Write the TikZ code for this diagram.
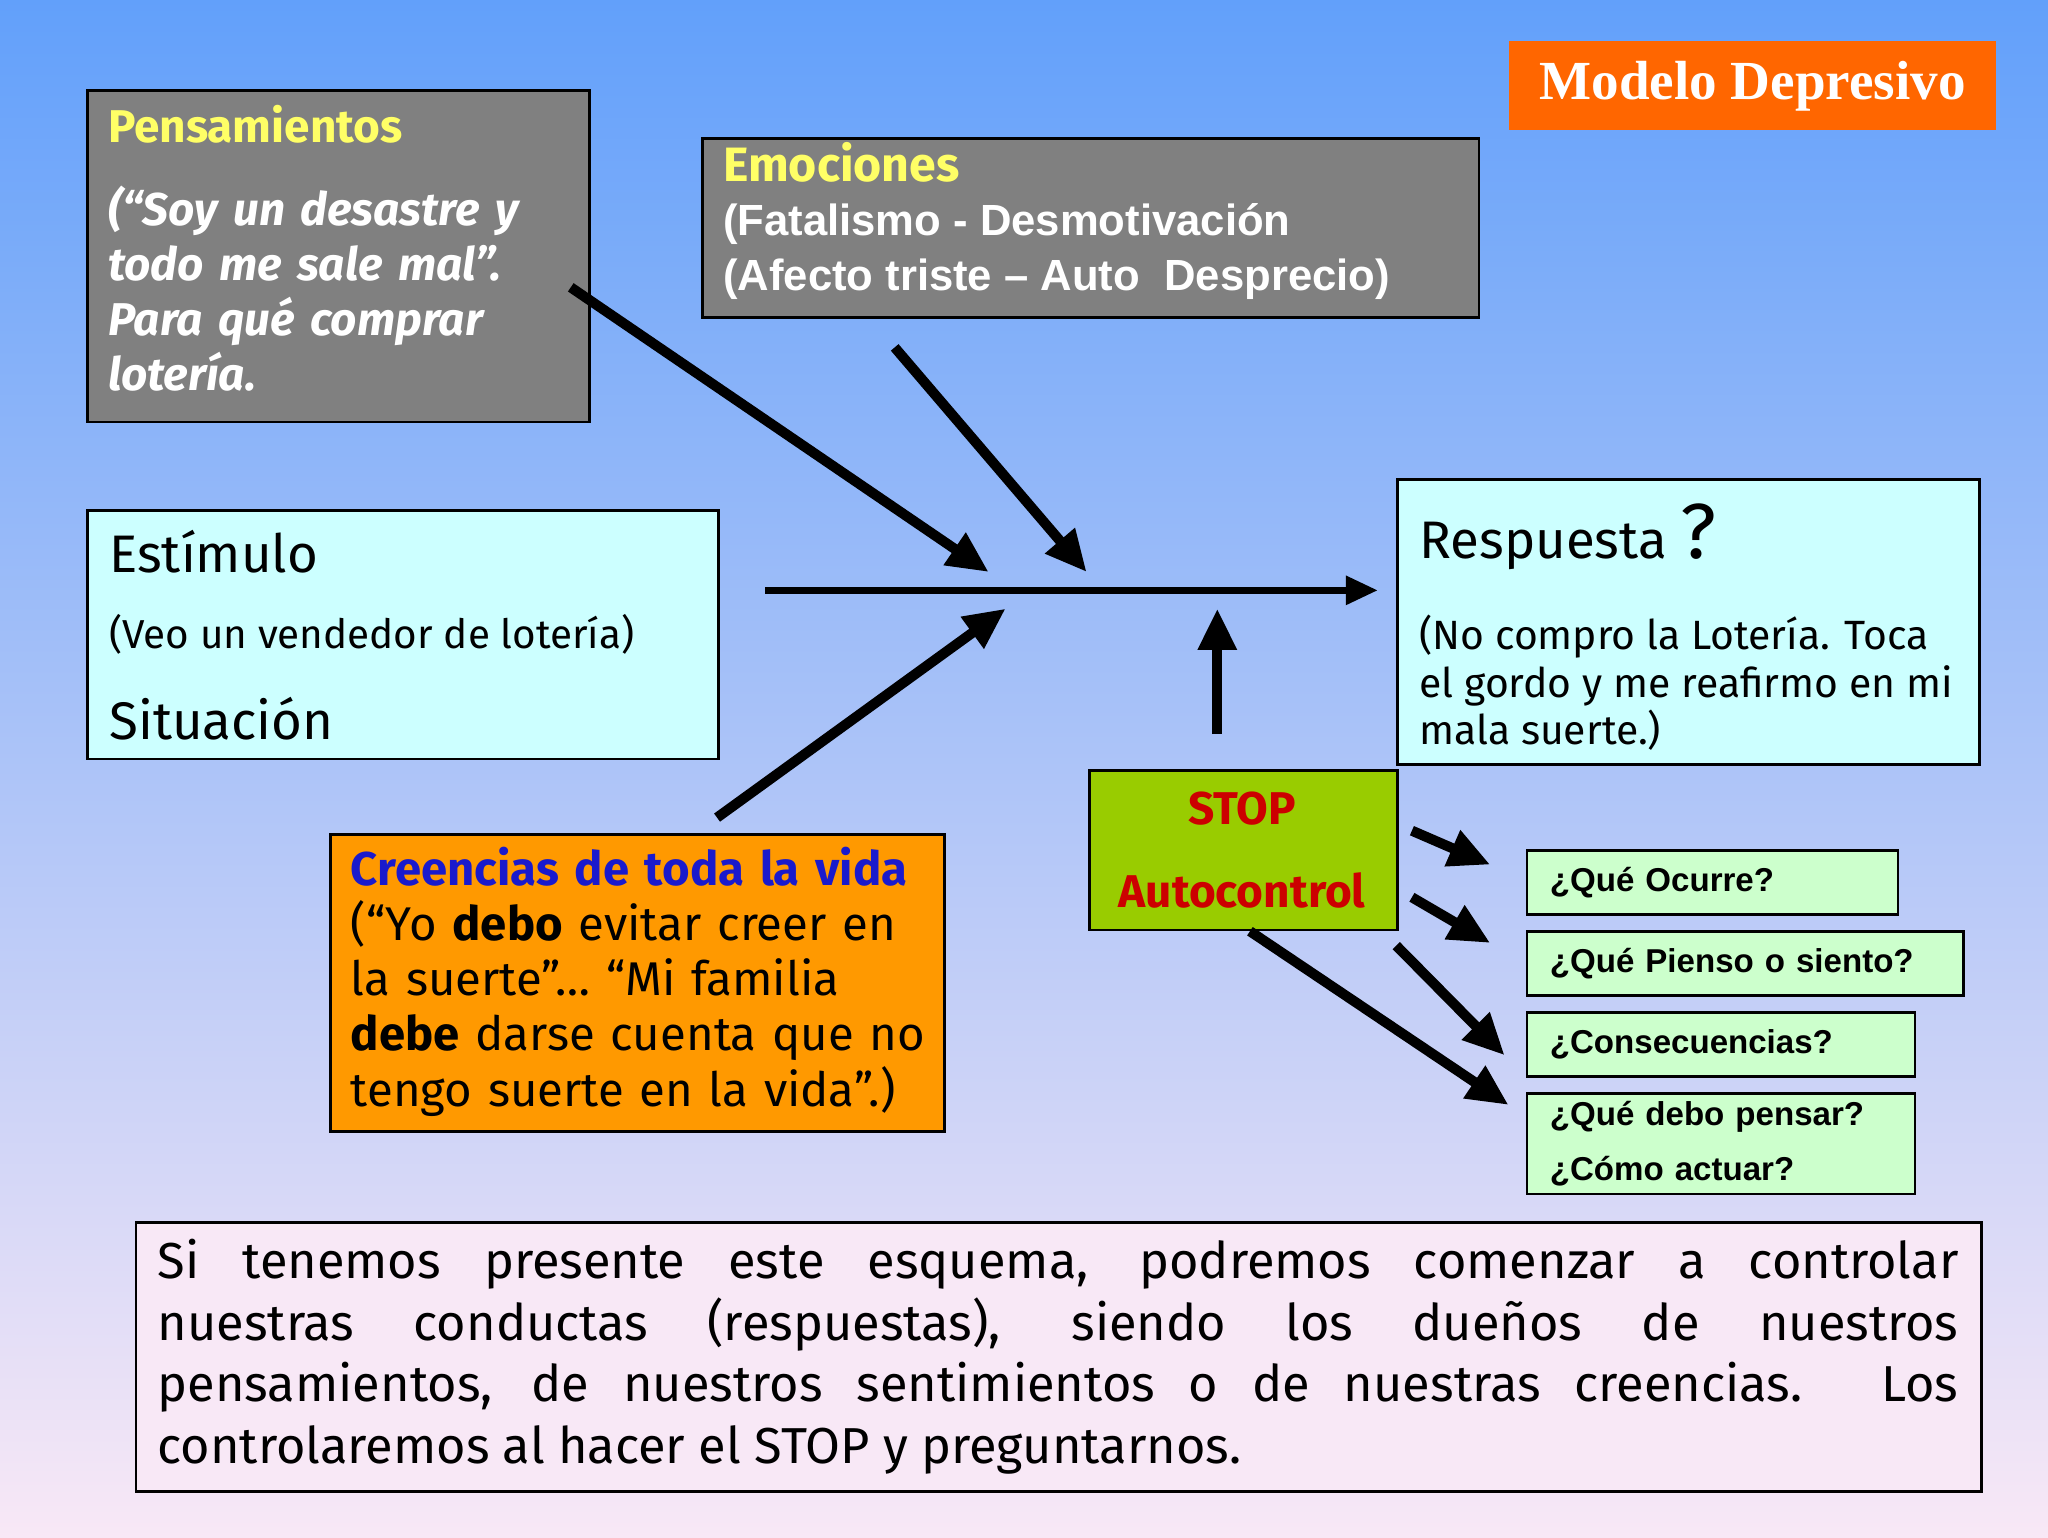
\documentclass[tikz,border=0pt]{standalone}
\usepackage{fontspec}
\setmainfont{Fira Sans}
\newfontfamily\arialf{Liberation Sans}
\newfontfamily\serifb{Liberation Serif}
\usetikzlibrary{arrows.meta}
\definecolor{bgtop}{HTML}{62A0FA}
\definecolor{bgbot}{HTML}{F8E8F6}
\definecolor{boxgray}{HTML}{808080}
\definecolor{ylw}{HTML}{FFFF66}
\definecolor{cyanb}{HTML}{CCFFFF}
\definecolor{greenb}{HTML}{CCFFCC}
\definecolor{stopg}{HTML}{99CC00}
\definecolor{orng}{HTML}{FF9900}
\definecolor{ttl}{HTML}{FF6600}
\definecolor{blu}{HTML}{1A1ACC}
\definecolor{redt}{HTML}{CC0000}
\begin{document}
\begin{tikzpicture}[x=0.01cm,y=-0.01cm,
 bx/.style={draw=black,line width=0.6pt,anchor=north west,inner sep=0pt},
 arr/.style={line width=2.2pt,-{Triangle[length=9pt,width=8pt]}},
 q/.style={bx,fill=greenb,font=\arialf\bfseries\fontsize{7.2}{9}\selectfont,text width=#1-10pt,align=left,inner xsep=5pt,inner ysep=0pt}]
\shade[top color=bgtop,bottom color=bgbot] (0,0) rectangle (1568,1177);
\useasboundingbox (0,0) rectangle (1568,1177);
% title
\node[fill=ttl,anchor=north west,minimum width=3.72cm,minimum height=0.68cm,font=\serifb\bfseries\fontsize{12}{14}\selectfont,text=white] (title) at (1155,31) {Modelo Depresivo};
% Pensamientos
\node[bx,fill=boxgray,minimum width=3.84cm,minimum height=2.54cm] (pen) at (66,68) {};
\node[anchor=north west,text width=3.55cm,align=left,inner sep=0pt,font=\bfseries\fontsize{10}{12}\selectfont] at (82,80)
 {\color{ylw}Pensamientos\\[6pt]
 \color{white}\itshape (“Soy un desastre y todo me sale mal”. Para qué comprar lotería.};
% Emociones
\node[bx,fill=boxgray,minimum width=5.94cm,minimum height=1.37cm] (emo) at (537,105) {};
\node[anchor=north west,inner sep=0pt,font=\fontsize{10.5}{12}\selectfont\bfseries,text=ylw] at (553,108) {Emociones};
\node[anchor=north west,inner sep=0pt,align=left,text=white,font=\arialf\bfseries\fontsize{9.5}{12}\selectfont] at (553,155)
 {(Fatalismo - Desmotivación\\(Afecto triste – Auto\ \ Desprecio)};
% Estimulo
\node[bx,fill=cyanb,minimum width=4.83cm,minimum height=1.9cm] (est) at (66,390) {};
\node[anchor=north west,inner sep=0pt,font=\fontsize{11.5}{13}\selectfont] at (83,405) {Estímulo};
\node[anchor=north west,inner sep=0pt,font=\fontsize{8.8}{11}\selectfont] at (83,470) {(Veo un vendedor de lotería)};
\node[anchor=north west,inner sep=0pt,font=\fontsize{11.5}{13}\selectfont] at (83,533) {Situación};
% Respuesta
\node[bx,fill=cyanb,minimum width=4.45cm,minimum height=2.18cm] (resp) at (1069,366) {};
\node[anchor=north west,inner sep=0pt,font=\fontsize{11.5}{13}\selectfont] at (1086,385) {Respuesta \fontsize{17}{17}\selectfont ?};
\node[anchor=north west,inner sep=0pt,align=left,font=\fontsize{8.9}{10.4}\selectfont] at (1086,470)
 {(No compro la Lotería. Toca\\el gordo y me reafirmo en mi\\mala suerte.)};
% STOP
\node[bx,fill=stopg,minimum width=2.36cm,minimum height=1.22cm] (stop) at (833,589) {};
\node[text=redt,font=\bfseries\fontsize{10}{12}\selectfont] at (951,619) {STOP};
\node[text=redt,font=\bfseries\fontsize{10}{12}\selectfont] at (951,682) {Autocontrol};
% Creencias
\node[bx,fill=orng,minimum width=4.7cm,minimum height=2.27cm] (cre) at (252,638) {};
\node[anchor=north west,inner sep=0pt,text width=4.45cm,align=left,font=\fontsize{10.3}{12}\selectfont] at (268,648)
 {\color{blu}\bfseries Creencias de toda la vida\\
 \color{black}\mdseries (“Yo \textbf{debo} evitar creer en\\la suerte”… “Mi familia\\\textbf{debe} darse cuenta que no\\tengo suerte en la vida”.)};
% questions
\node[q=2.84cm,minimum width=2.84cm,minimum height=0.49cm] (q1) at (1168,650) {¿Qué Ocurre?};
\node[q=3.34cm,minimum width=3.34cm,minimum height=0.49cm] (q2) at (1168,712) {¿Qué Pienso o siento?};
\node[q=2.97cm,minimum width=2.97cm,minimum height=0.49cm] (q3) at (1168,774) {¿Consecuencias?};
\node[q=2.97cm,minimum width=2.97cm,minimum height=0.77cm] (q4) at (1168,836) {¿Qué debo pensar?\\[3pt]¿Cómo actuar?};
% bottom text
\node[bx,fill=bgbot,minimum width=14.12cm,minimum height=2.06cm] (bot) at (103,935) {};
\node[anchor=north west,inner sep=0pt,text width=13.78cm,align=justify,font=\fontsize{11}{13.4}\selectfont] at (120,948)
 {Si tenemos presente este esquema, podremos comenzar a controlar\linebreak nuestras conductas (respuestas), siendo los dueños de nuestros\linebreak pensamientos, de nuestros sentimientos o de nuestras creencias. Los\linebreak controlaremos al hacer el STOP y preguntarnos.};
% arrows
\coordinate (ms) at (586,452); \coordinate (me) at (1055,452);
\draw[line width=1.6pt,-{Triangle[length=7pt,width=6pt]}] (ms) -- (me);
\coordinate (a1s) at (437,220); \coordinate (a1e) at (757,438);
\coordinate (a2s) at (685,266); \coordinate (a2e) at (832,438);
\coordinate (a3s) at (549,626); \coordinate (a3e) at (770,466);
\coordinate (a4s) at (932,562); \coordinate (a4e) at (932,466);
\draw[arr] (a1s) -- (a1e);
\draw[arr] (a2s) -- (a2e);
\draw[arr] (a3s) -- (a3e);
\draw[arr] (a4s) -- (a4e);
\coordinate (b1s) at (1081,636); \coordinate (b1e) at (1141,662);
\coordinate (b2s) at (1081,687); \coordinate (b2e) at (1141,722);
\coordinate (b3s) at (1069,724); \coordinate (b3e) at (1152,808);
\coordinate (b4s) at (957,713); \coordinate (b4e) at (1155,846);
\draw[arr] (b1s) -- (b1e);
\draw[arr] (b2s) -- (b2e);
\draw[arr] (b3s) -- (b3e);
\draw[arr] (b4s) -- (b4e);
\end{tikzpicture}
\end{document}
